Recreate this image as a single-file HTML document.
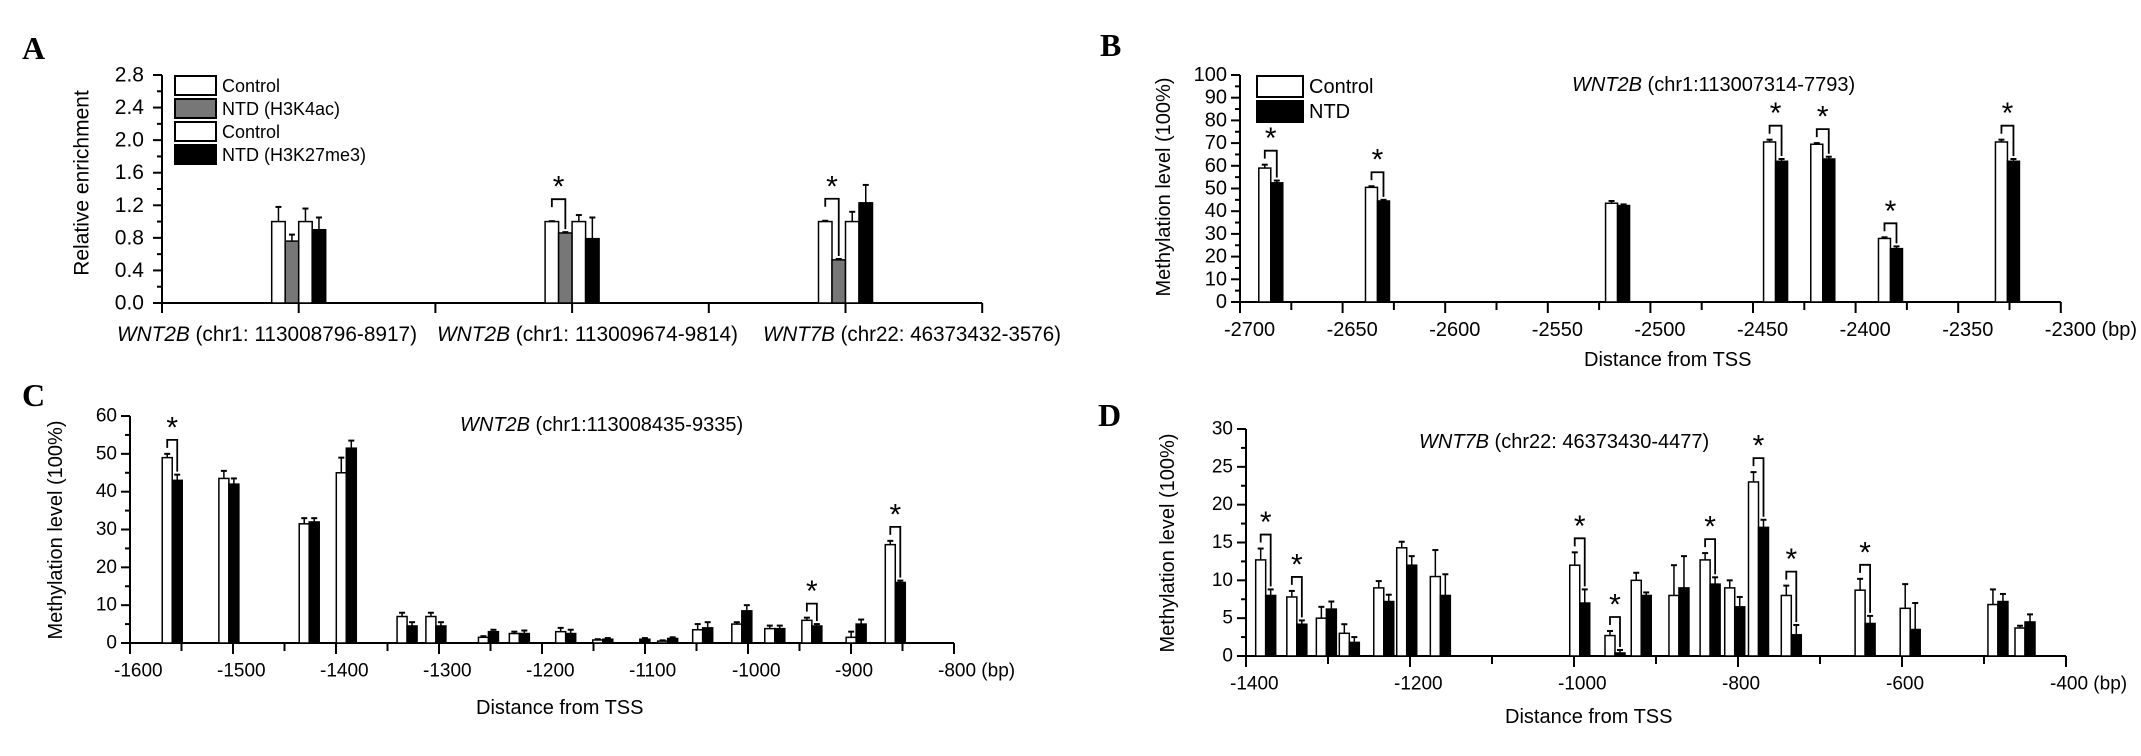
<!DOCTYPE html>
<html><head><meta charset="utf-8">
<style>
html,body{margin:0;padding:0;background:#fff;}
svg{display:block;font-family:"Liberation Sans",Arial,sans-serif;}
.pl{font-family:"Liberation Serif",serif;font-weight:bold;font-size:32px;}
</style></head>
<body>
<svg id="fig" width="2141" height="756" viewBox="0 0 2141 756" xmlns="http://www.w3.org/2000/svg"></svg>
<script>
// ---------- Panel A data ----------
const aCategories = ["WNT2B (chr1: 113008796-8917)", "WNT2B (chr1: 113009674-9814)", "WNT7B (chr22: 46373432-3576)"];
const aCtrl1 = [1.0, 1.0, 1.0];
const aCtrl1Err = [0.18, 0.005, 0.01];
const aH3K4ac = [0.76, 0.86, 0.53];
const aH3K4acErr = [0.08, 0.01, 0.01];
const aCtrl2 = [1.0, 1.0, 1.0];
const aCtrl2Err = [0.16, 0.08, 0.12];
const aH3K27 = [0.9, 0.79, 1.23];
const aH3K27Err = [0.15, 0.26, 0.22];
const aSig = [false, true, true];
const aTicks = [0, 0.4, 0.8, 1.2, 1.6, 2.0, 2.4, 2.8];

// ---------- Panel B data ----------
const bPos = [-2685, -2633, -2516, -2439, -2416, -2383, -2326];
const bCtrl = [59, 50.5, 43.5, 70.5, 69.5, 28, 70.5];
const bCtrlErr = [1.5, 0.5, 1, 1, 0.5, 0.5, 1];
const bNtd = [52.5, 44.5, 42.5, 62, 63, 23.5, 62];
const bNtdErr = [1, 0.5, 0.5, 1, 1, 1, 1];
const bSig = [true, true, false, true, true, true, true];
const bYTicks = [0,10,20,30,40,50,60,70,80,90,100];
const bXTicks = [-2700,-2650,-2600,-2550,-2500,-2450,-2400,-2350,-2300];

// ---------- Panel C data ----------
const cPos = [-1559,-1504,-1426,-1390,-1331,-1303,-1252,-1222,-1177,-1141,-1105,-1078,-1044,-1006,-974,-938,-895,-857];
const cCtrl = [49,43.5,31.5,45,7,7,1.5,2.5,3,0.8,0,0.5,3.5,5,3.8,6,1.5,26];
const cCtrlErr = [1,2,1.5,4,1,1,0.3,0.5,1,0.2,0,0.2,1.5,0.5,0.8,0.7,1.5,1];
const cNtd = [43,42,32,51.5,4.5,4.5,3,2.5,2.5,1,1,1.2,4,8.5,3.8,4.5,5,16];
const cNtdErr = [1.5,1.5,1,2,1,1,0.5,0.8,1,0.3,0.3,0.3,1.5,1.5,0.8,0.5,1.2,0.5];
const cSig = [true,false,false,false,false,false,false,false,false,false,false,false,false,false,false,true,false,true];
const cYTicks = [0,10,20,30,40,50,60];
const cXTicks = [-1600,-1500,-1400,-1300,-1200,-1100,-1000,-900,-800];

// ---------- Panel D data ----------
const dPos = [-1376,-1338,-1302,-1274,-1232,-1204,-1163,-993,-950,-918,-872,-834,-804,-775,-735,-645,-590,-483,-450];
const dCtrl = [12.7,7.8,5,3,9,14.3,10.5,12,2.7,10,8,12.7,9,23,8,8.7,6.3,6.8,3.7];
const dCtrlErr = [1.5,0.8,1.5,1.2,0.9,0.8,3.5,1.7,0.6,1,4,0.9,1,1.3,1.3,1.5,3.2,2,0.3];
const dNtd = [8,4.2,6.2,1.8,7.2,12,8,7,0.4,8,9,9.5,6.5,17,2.8,4.3,3.5,7.2,4.5];
const dNtdErr = [0.8,0.5,1,0.7,0.9,1.2,2.8,1.8,0.4,0.4,4.2,0.9,1.3,1,1.3,1,3.5,1,1];
const dSig = [true,true,false,false,false,false,false,true,true,false,false,true,false,true,true,true,false,false,false];
const dYTicks = [0,5,10,15,20,25,30];
const dXTicks = [-1400,-1200,-1000,-800,-600,-400];

const NS = "http://www.w3.org/2000/svg";
const svg = document.getElementById('fig');
function mk(tag, attrs, parent) {
  const e = document.createElementNS(NS, tag);
  for (const k in attrs) e.setAttribute(k, attrs[k]);
  (parent || svg).appendChild(e);
  return e;
}
function line(g, x1, y1, x2, y2, w) {
  return mk('line', {x1:x1, y1:y1, x2:x2, y2:y2, stroke:'#000', 'stroke-width':w||2}, g);
}
function txt(g, x, y, s, size, anchor, extra) {
  const t = mk('text', Object.assign({x:x, y:y, 'font-size':size, 'text-anchor':anchor||'start', 'dominant-baseline':'central', fill:'#000'}, extra||{}), g);
  t.textContent = s;
  return t;
}
function panelLabel(x, y, s) {
  const t = mk('text', {x:x, y:y, class:'pl', 'dominant-baseline':'central'});
  t.textContent = s;
  
  
}
function bar(g, x, w, yTop, yBase, fill, name) {
  const r = mk('rect', {x:x, y:yTop, width:w, height:Math.max(0, yBase - yTop), fill:fill, stroke:'#000', 'stroke-width':1.5}, g);
  
  
  return r;
}
function errBar(g, cx, yTop, yErr) {
  const e = mk('g', {}, g);
  
  
  line(e, cx, yTop, cx, yErr, 1.5);
  line(e, cx - 3, yErr, cx + 3, yErr, 2);
}
function sigMark(g, xl, xr, yLeftTop, yRightTop, gap) {
  const e = mk('g', {}, g);
  
  
  const yb = Math.min(yLeftTop, yRightTop) - gap;
  mk('polyline', {points: `${xl},${yb+8} ${xl},${yb} ${xr},${yb} ${xr},${yRightTop-3}`, fill:'none', stroke:'#000', 'stroke-width':1.8}, e);
  const s = txt(e, (xl + xr) / 2, yb - 12, '*', 30, 'middle');
  
  
}
function yAxis(g, ax, yf, ticks, minorStep, fmt, size, labelX) {
  const ya = mk('g', {}, g);
  
  
  const top = yf(ticks[ticks.length - 1]), bot = yf(ticks[0]);
  line(ya, ax, top, ax, bot, 2);
  ticks.forEach(v => {
    line(ya, ax - 9, yf(v), ax, yf(v), 2);
    const t = txt(ya, labelX, yf(v), fmt(v), size, 'end');
    
    
  });
  for (let v = ticks[0] + minorStep; v < ticks[ticks.length - 1]; v += minorStep * 2) {
    line(ya, ax - 5, yf(v), ax, yf(v), 2);
  }
}

// ================= Panel A =================
(function(){
  const g = mk('g', {});
  
  
  const ax = 162, y0 = 303, ppu = (303 - 75) / 2.8;
  const yf = v => y0 - v * ppu;
  const step = 136.7;
  const cx = i => ax + step * (1 + 2 * i);
  yAxis(g, ax, yf, aTicks, 0.2, v => v.toFixed(1), 21, 144);
  const xa = mk('g', {}, g);
  
  
  line(xa, ax, y0, ax + step * 6, y0, 2);
  for (let k = 0; k <= 6; k++) line(xa, ax + step * k, y0, ax + step * k, y0 + 10, 2);
  const labX = [117, 437, 763];
  const labW = [300, 301, 298];
  aCategories.forEach((c, i) => {
    const parts = c.split(' ');
    const t = mk('text', {x: labX[i], y: 334, 'font-size': 21, 'dominant-baseline':'central', textLength: labW[i], lengthAdjust:'spacingAndGlyphs'}, g);
    
    
    const s1 = mk('tspan', {'font-style':'italic'}, t); s1.textContent = parts[0];
    const s2 = mk('tspan', {}, t); s2.textContent = ' ' + parts.slice(1).join(' ');
  });
  const w = 13.5;
  const series = [[aCtrl1, aCtrl1Err, '#fff', 'bar-control-h3k4ac'], [aH3K4ac, aH3K4acErr, '#777', 'bar-ntd-h3k4ac'], [aCtrl2, aCtrl2Err, '#fff', 'bar-control-h3k27me3'], [aH3K27, aH3K27Err, '#000', 'bar-ntd-h3k27me3']];
  aCategories.forEach((c, i) => {
    const c0 = cx(i);
    series.forEach((s, j) => {
      const x = c0 - 2 * w + j * w;
      bar(g, x, w, yf(s[0][i]), y0, s[2], s[3]);
      errBar(g, x + w / 2, yf(s[0][i]), yf(s[0][i] + s[1][i]));
    });
    if (aSig[i]) sigMark(g, c0 - 1.5 * w, c0 - 0.5 * w, yf(aCtrl1[i] + aCtrl1Err[i]), yf(aH3K4ac[i] + aH3K4acErr[i]) , 22);
  });
  const yt = txt(g, 82, 183, 'Relative enrichment', 21, 'middle', {transform: 'rotate(-90 82 183)'});
  
  
  const lg = mk('g', {}, g);
  
  
  const ln = ['Control', 'NTD  (H3K4ac)', 'Control', 'NTD  (H3K27me3)'];
  const lc = ['#fff', '#777', '#fff', '#000'];
  ln.forEach((s, j) => {
    const y = 75 + j * 23;
    const r = mk('rect', {x:175, y:y + 1, width:41, height:19, fill:lc[j], stroke:'#000', 'stroke-width':2}, lg);
    
    
    const t = txt(lg, 222, y + 11, s, 18);
    
    
  });
})();
panelLabel(22, 48, 'A');

// ================= generic methylation panel =================
function methPanel(o) {
  const g = mk('g', {});
  
  
  const yf = v => o.y0 - v * o.ppu;
  const xf = bp => o.ax + (bp - o.xTicks[0]) * o.ppx;
  yAxis(g, o.ax, yf, o.yTicks, o.yMinor, v => String(v), o.tickSize, o.ax - 13);
  const xa = mk('g', {}, g);
  
  
  const xEnd = xf(o.xTicks[o.xTicks.length - 1]);
  line(xa, o.ax, o.y0, xEnd, o.y0, 2);
  o.xTicks.forEach((v, i) => {
    line(xa, xf(v), o.y0, xf(v), o.y0 + 11, 2);
    if (i < o.xTicks.length - 1) line(xa, xf(v + o.xMinor), o.y0, xf(v + o.xMinor), o.y0 + 8, 2);
    const lab = (i === o.xTicks.length - 1) ? String(v) + ' (bp)' : String(v);
    const t = txt(xa, xf(v) - 16, o.y0 + 28, lab, o.tickSize, 'start');
    
    
  });
  const w = o.barW;
  o.pos.forEach((p, i) => {
    const c = xf(p);
    bar(g, c - w, w, yf(o.ctrl[i]), o.y0, '#fff', 'bar-control');
    errBar(g, c - w / 2, yf(o.ctrl[i]), yf(o.ctrl[i] + o.ctrlErr[i]));
    bar(g, c, w, yf(o.ntd[i]), o.y0, '#000', 'bar-ntd');
    errBar(g, c + w / 2, yf(o.ntd[i]), yf(o.ntd[i] + o.ntdErr[i]));
    if (o.sig[i]) sigMark(g, c - w / 2, c + w / 2, yf(o.ctrl[i] + o.ctrlErr[i]), yf(o.ntd[i] + o.ntdErr[i]), 14);
  });
  const yt = txt(g, o.yTitleX, o.yTitleY, 'Methylation level (100%)', 20, 'middle', {transform: `rotate(-90 ${o.yTitleX} ${o.yTitleY})`});
  
  
  const xt = txt(g, o.xTitleX, o.xTitleY, 'Distance from TSS', 20, 'start');
  
  
  const tt = mk('text', {x:o.titleX, y:o.titleY, 'font-size':20, 'dominant-baseline':'central'}, g);
  
  
  const t1 = mk('tspan', {'font-style':'italic'}, tt); t1.textContent = o.gene;
  const t2 = mk('tspan', {}, tt); t2.textContent = ' ' + o.region;
  return g;
}

const gB = methPanel({name:'panel-b-chart', ax:1240, y0:302, ppu:2.27, ppx:2.052, xTicks:bXTicks, xMinor:25, yTicks:bYTicks, yMinor:5,
  pos:bPos, ctrl:bCtrl, ctrlErr:bCtrlErr, ntd:bNtd, ntdErr:bNtdErr, sig:bSig, barW:12, tickSize:20,
  yTitleX:1164, yTitleY:187, xTitleX:1584, xTitleY:360, titleX:1572, titleY:85, gene:'WNT2B', region:'(chr1:113007314-7793)'});
// legend for B
(function(){
  const lg = mk('g', {}, gB);
  
  
  [['Control', '#fff'], ['NTD', '#000']].forEach((e, j) => {
    const y = 76 + j * 25;
    const r = mk('rect', {x:1257, y:y, width:46, height:21, fill:e[1], stroke:'#000', 'stroke-width':2}, lg);
    
    
    const t = txt(lg, 1309, y + 11, e[0], 20);
    
    
  });
})();
panelLabel(1100, 45, 'B');

methPanel({name:'panel-c-chart', ax:130, y0:643, ppu:3.783, ppx:1.03, xTicks:cXTicks, xMinor:50, yTicks:cYTicks, yMinor:5,
  pos:cPos, ctrl:cCtrl, ctrlErr:cCtrlErr, ntd:cNtd, ntdErr:cNtdErr, sig:cSig, barW:10, tickSize:19,
  yTitleX:56, yTitleY:530, xTitleX:476, xTitleY:708, titleX:460, titleY:425, gene:'WNT2B', region:'(chr1:113008435-9335)'});
panelLabel(22, 395, 'C');

methPanel({name:'panel-d-chart', ax:1246, y0:656, ppu:7.567, ppx:0.82, xTicks:dXTicks, xMinor:100, yTicks:dYTicks, yMinor:2.5,
  pos:dPos, ctrl:dCtrl, ctrlErr:dCtrlErr, ntd:dNtd, ntdErr:dNtdErr, sig:dSig, barW:10, tickSize:19,
  yTitleX:1168, yTitleY:543, xTitleX:1505, xTitleY:717, titleX:1419, titleY:442, gene:'WNT7B', region:'(chr22: 46373430-4477)'});
panelLabel(1098, 415, 'D');
</script>
</body></html>
